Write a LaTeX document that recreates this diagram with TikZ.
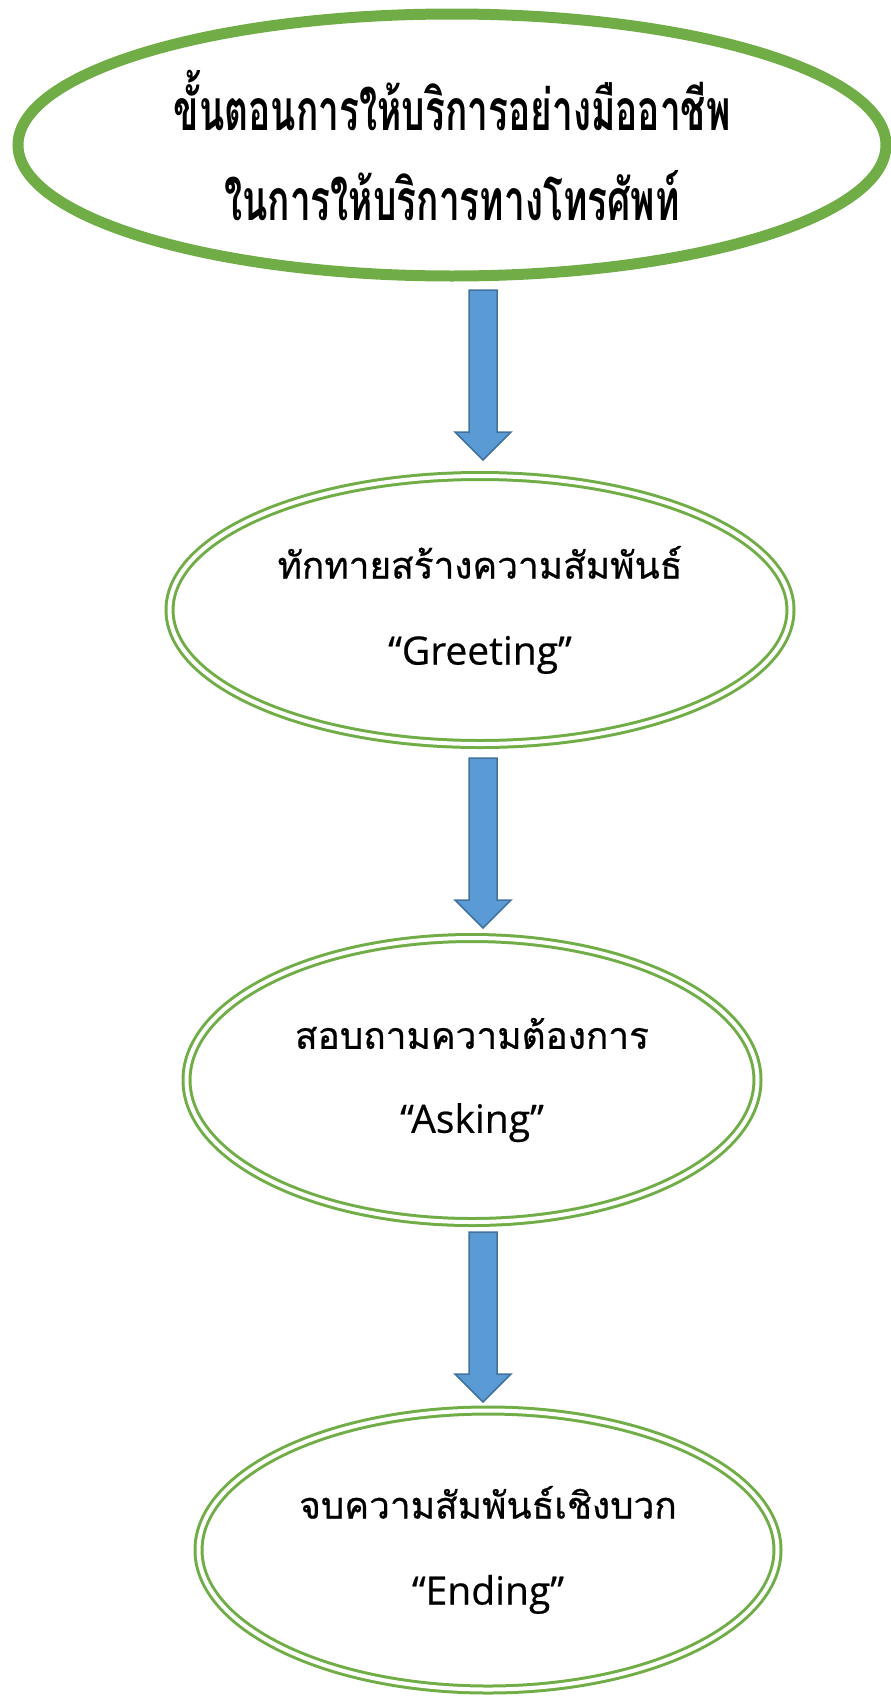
\documentclass[tikz,border=0pt]{standalone}
\usepackage{fontspec}
\newfontfamily\thaifont[Script=Thai,FakeBold=0.6]{Loma}
\newfontfamily\thaititle[Script=Thai,FakeStretch=0.65]{Loma}
\newfontfamily\latinfont[FakeBold=0.5]{Open Sans}
\usetikzlibrary{shapes.geometric}
\definecolor{ogreen}{HTML}{70AD47}
\definecolor{ablue}{HTML}{5B9BD5}
\definecolor{aborder}{HTML}{41719C}
\tikzset{
  titleell/.style={ellipse, draw=ogreen, line width=11pt, fill=white, inner sep=0pt, align=center},
  stageell/.style={ellipse, draw=ogreen, line width=3pt, double=white, double distance=4pt, fill=white, inner sep=0pt, align=center},
  blockarrow/.style={fill=ablue, draw=aborder, line width=1.5pt, line join=miter},
}
\begin{document}
\begin{tikzpicture}[x=1pt,y=-1pt]
\useasboundingbox (0,0) rectangle (891,1697);
\node[titleell, minimum width=868pt, minimum height=262pt,
  font={\thaititle\bfseries\fontsize{57}{90}\selectfont}] (title) at (452,145)
  {ขั้นตอนการให้บริการอย่างมืออาชีพ\\ในการให้บริการทางโทรศัพท์};
\node[stageell, minimum width=621pt, minimum height=268pt,
  font={\thaifont\fontsize{37}{86}\selectfont}] (greet) at (480,610)
  {ทักทายสร้างความสัมพันธ์\\{\latinfont\fontsize{39}{86}\selectfont “Greeting”}};
\node[stageell, minimum width=571pt, minimum height=284pt,
  font={\thaifont\fontsize{37}{84}\selectfont}] (ask) at (472,1080)
  {สอบถามความต้องการ\\{\latinfont\fontsize{39}{84}\selectfont “Asking”}};
\node[stageell, minimum width=579pt, minimum height=279pt,
  font={\thaifont\fontsize{37}{86}\selectfont}] (end) at (488,1550)
  {จบความสัมพันธ์เชิงบวก\\{\latinfont\fontsize{39}{86}\selectfont “Ending”}};
% block arrows
\foreach \n/\t/\b in {a1/290/460, a2/758/928, a3/1232/1402}{
  \coordinate (\n top) at (483,\t);
  \coordinate (\n tip) at (483,\b);
  \draw[blockarrow] ([xshift=-14pt]\n top) -- ([xshift=14pt]\n top)
    -- ([xshift=14pt,yshift=28pt]\n tip) -- ([xshift=28pt,yshift=28pt]\n tip)
    -- (\n tip) -- ([xshift=-28pt,yshift=28pt]\n tip)
    -- ([xshift=-14pt,yshift=28pt]\n tip) -- cycle;
}
\end{tikzpicture}
\end{document}
